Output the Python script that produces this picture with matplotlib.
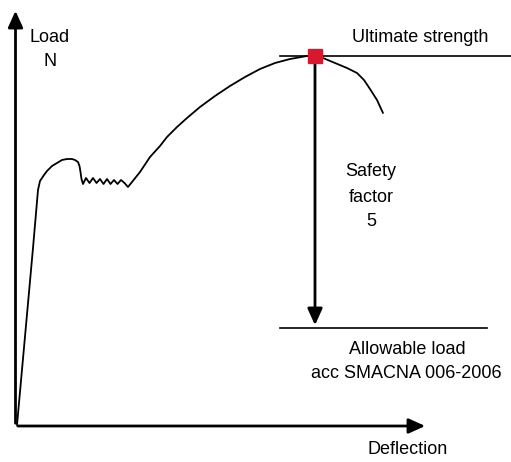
import matplotlib.pyplot as plt
import numpy as np

# curve (pixel-like units, y grows downward)
curve_x = [17, 33, 38, 40, 44, 47, 52, 57, 62, 67, 72, 75, 78, 79.5, 80.5, 81.5, 83,
           86, 89.5, 93, 96.5, 100, 103.5, 107, 110.5, 114, 117.5, 121, 124.5, 128,
           140, 150, 160, 167, 177, 187, 200, 215, 230, 245, 260, 275, 290, 307, 315,
           323, 335, 347, 357, 364, 370, 377, 383]
curve_y = [425, 248, 190, 181, 175, 171, 166, 163, 160, 159, 159, 160, 162, 166, 172, 179, 184,
           178, 183, 178, 183, 179, 184, 179, 184, 180, 184, 180, 183, 187,
           172, 157, 146, 137, 127, 118, 107, 96, 86, 77, 69, 63, 59, 56, 56,
           58, 63, 68, 73, 80, 89, 100, 113]

ultimate_y = 56
allow_y = 328
peak_x = 315

fig = plt.figure(figsize=(5.11, 4.62), dpi=100)
ax = fig.add_axes([0, 0, 1, 1])
ax.set_xlim(0, 511)
ax.set_ylim(462, 0)
ax.axis('off')

plt.rcParams['font.family'] = ['Liberation Sans', 'DejaVu Sans']
fs = 13

arrow = dict(arrowstyle='-|>,head_length=1.0,head_width=0.45', color='black', lw=2)

# axes arrows
ax.annotate('', xy=(15.5, 8), xytext=(15.5, 426), arrowprops=arrow)
ax.annotate('', xy=(428, 426), xytext=(15, 426), arrowprops=arrow)

# load curve
ax.plot(curve_x, curve_y, color='black', lw=1.3, solid_capstyle='round', solid_joinstyle='round')

# reference lines
ax.plot([280, 511], [ultimate_y, ultimate_y], color='black', lw=1.2)
ax.plot([280, 487], [allow_y, allow_y], color='black', lw=1.2)

# safety factor arrow
ax.annotate('', xy=(peak_x, allow_y), xytext=(peak_x, ultimate_y), arrowprops=arrow)
ax.plot([peak_x], [ultimate_y], marker='s', ms=10, color='#d6192e', zorder=5)

# labels
ax.text(50, 37, 'Load', ha='center', va='center', fontsize=fs)
ax.text(50, 62, 'N', ha='center', va='center', fontsize=fs)
ax.text(420, 38, 'Ultimate strength', ha='center', va='center', fontsize=fs)
ax.text(371, 172, 'Safety', ha='center', va='center', fontsize=fs)
ax.text(371, 197, 'factor', ha='center', va='center', fontsize=fs)
ax.text(371, 221, '5', ha='center', va='center', fontsize=fs)
ax.text(407, 350, 'Allowable load', ha='center', va='center', fontsize=fs)
ax.text(406, 373, 'acc SMACNA 006-2006', ha='center', va='center', fontsize=fs)
ax.text(408, 449, 'Deflection', ha='center', va='center', fontsize=fs)

fig.savefig('out.png', dpi=100)
